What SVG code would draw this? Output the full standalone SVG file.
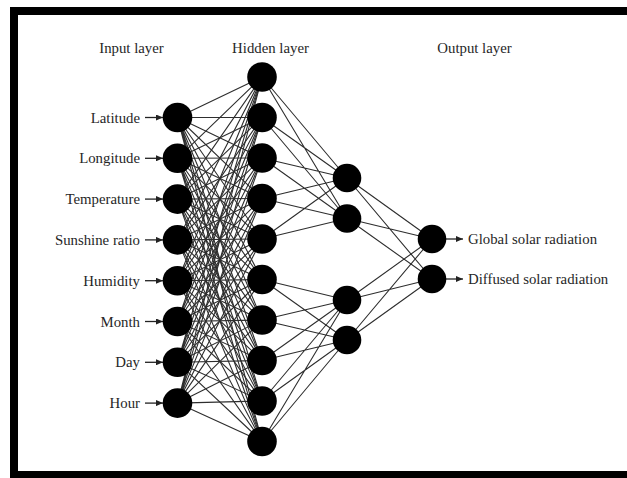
<svg xmlns="http://www.w3.org/2000/svg" width="627" height="478" viewBox="0 0 627 478">
  <style>
    .lbl { font-family: "Liberation Serif", "Times New Roman", serif; font-size: 14.8px; fill: #262626; }
    .node { fill: #000; }
    .edge { fill: none; stroke: #2e2e2e; stroke-width: 1.1; }
    .arr { stroke: #222; stroke-width: 1.3; marker-end: url(#tip); }
  </style>
  <defs>
    <marker id="tip" markerUnits="userSpaceOnUse" markerWidth="7" markerHeight="6" refX="7" refY="3" orient="auto">
      <path d="M0,0 L7,3 L0,6 z" fill="#222"/>
    </marker>
  </defs>

  <!-- frame -->
  <rect x="10" y="7" width="617" height="471" fill="#000"/>
  <rect x="18" y="15" width="609" height="456" fill="#fff"/>

  <!-- layer titles -->
  <text class="lbl" x="131.5" y="52.5" text-anchor="middle">Input layer</text>
  <text class="lbl" x="270.5" y="52.5" text-anchor="middle">Hidden layer</text>
  <text class="lbl" x="474.5" y="52.5" text-anchor="middle">Output layer</text>

  <!-- connectors -->
  <g id="connectors">
    <!-- input layer to first hidden layer (fully connected) -->
    <path class="edge" d="M177.5 117.5L262 77M177.5 117.5L262 117.5M177.5 117.5L262 158M177.5 117.5L262 198.5M177.5 117.5L262 239M177.5 117.5L262 279.5M177.5 117.5L262 320M177.5 117.5L262 360.5M177.5 117.5L262 401M177.5 117.5L262 441.5"/>
    <path class="edge" d="M177.5 158.3L262 77M177.5 158.3L262 117.5M177.5 158.3L262 158M177.5 158.3L262 198.5M177.5 158.3L262 239M177.5 158.3L262 279.5M177.5 158.3L262 320M177.5 158.3L262 360.5M177.5 158.3L262 401M177.5 158.3L262 441.5"/>
    <path class="edge" d="M177.5 199.1L262 77M177.5 199.1L262 117.5M177.5 199.1L262 158M177.5 199.1L262 198.5M177.5 199.1L262 239M177.5 199.1L262 279.5M177.5 199.1L262 320M177.5 199.1L262 360.5M177.5 199.1L262 401M177.5 199.1L262 441.5"/>
    <path class="edge" d="M177.5 239.9L262 77M177.5 239.9L262 117.5M177.5 239.9L262 158M177.5 239.9L262 198.5M177.5 239.9L262 239M177.5 239.9L262 279.5M177.5 239.9L262 320M177.5 239.9L262 360.5M177.5 239.9L262 401M177.5 239.9L262 441.5"/>
    <path class="edge" d="M177.5 280.7L262 77M177.5 280.7L262 117.5M177.5 280.7L262 158M177.5 280.7L262 198.5M177.5 280.7L262 239M177.5 280.7L262 279.5M177.5 280.7L262 320M177.5 280.7L262 360.5M177.5 280.7L262 401M177.5 280.7L262 441.5"/>
    <path class="edge" d="M177.5 321.5L262 77M177.5 321.5L262 117.5M177.5 321.5L262 158M177.5 321.5L262 198.5M177.5 321.5L262 239M177.5 321.5L262 279.5M177.5 321.5L262 320M177.5 321.5L262 360.5M177.5 321.5L262 401M177.5 321.5L262 441.5"/>
    <path class="edge" d="M177.5 362.3L262 77M177.5 362.3L262 117.5M177.5 362.3L262 158M177.5 362.3L262 198.5M177.5 362.3L262 239M177.5 362.3L262 279.5M177.5 362.3L262 320M177.5 362.3L262 360.5M177.5 362.3L262 401M177.5 362.3L262 441.5"/>
    <path class="edge" d="M177.5 403.1L262 77M177.5 403.1L262 117.5M177.5 403.1L262 158M177.5 403.1L262 198.5M177.5 403.1L262 239M177.5 403.1L262 279.5M177.5 403.1L262 320M177.5 403.1L262 360.5M177.5 403.1L262 401M177.5 403.1L262 441.5"/>
    <!-- first hidden layer to second hidden layer -->
    <path class="edge" d="M262 77L347 178M262 77L347 218.5M262 117.5L347 178M262 117.5L347 218.5M262 158L347 178M262 158L347 218.5M262 198.5L347 178M262 198.5L347 218.5M262 239L347 178M262 239L347 218.5"/>
    <path class="edge" d="M262 279.5L347 300M262 279.5L347 340M262 320L347 300M262 320L347 340M262 360.5L347 300M262 360.5L347 340M262 401L347 300M262 401L347 340M262 441.5L347 300M262 441.5L347 340"/>
    <!-- second hidden layer to output layer -->
    <path class="edge" d="M347 178L432 239M347 178L432 279M347 218.5L432 239M347 218.5L432 279M347 300L432 239M347 300L432 279M347 340L432 239M347 340L432 279"/>
    <!-- input arrows -->
    <line class="arr" x1="145" y1="117.5" x2="163" y2="117.5"/>
    <line class="arr" x1="145" y1="158.3" x2="163" y2="158.3"/>
    <line class="arr" x1="145" y1="199.1" x2="163" y2="199.1"/>
    <line class="arr" x1="145" y1="239.9" x2="163" y2="239.9"/>
    <line class="arr" x1="145" y1="280.7" x2="163" y2="280.7"/>
    <line class="arr" x1="145" y1="321.5" x2="163" y2="321.5"/>
    <line class="arr" x1="145" y1="362.3" x2="163" y2="362.3"/>
    <line class="arr" x1="145" y1="403.1" x2="163" y2="403.1"/>
    <!-- output arrows -->
    <line class="arr" x1="446" y1="239" x2="463" y2="239"/>
    <line class="arr" x1="446" y1="279" x2="463" y2="279"/>
  </g>

  <!-- input layer -->
  <g id="in-latitude"><circle class="node" cx="177.5" cy="117.5" r="14.8"/><text class="lbl" x="140" y="122.5" text-anchor="end">Latitude</text></g>
  <g id="in-longitude"><circle class="node" cx="177.5" cy="158.3" r="14.8"/><text class="lbl" x="140" y="163.3" text-anchor="end">Longitude</text></g>
  <g id="in-temperature"><circle class="node" cx="177.5" cy="199.1" r="14.8"/><text class="lbl" x="140" y="204.1" text-anchor="end">Temperature</text></g>
  <g id="in-sunshine"><circle class="node" cx="177.5" cy="239.9" r="14.8"/><text class="lbl" x="140" y="244.9" text-anchor="end">Sunshine ratio</text></g>
  <g id="in-humidity"><circle class="node" cx="177.5" cy="280.7" r="14.8"/><text class="lbl" x="140" y="285.7" text-anchor="end">Humidity</text></g>
  <g id="in-month"><circle class="node" cx="177.5" cy="321.5" r="14.8"/><text class="lbl" x="140" y="326.5" text-anchor="end">Month</text></g>
  <g id="in-day"><circle class="node" cx="177.5" cy="362.3" r="14.8"/><text class="lbl" x="140" y="367.3" text-anchor="end">Day</text></g>
  <g id="in-hour"><circle class="node" cx="177.5" cy="403.1" r="14.8"/><text class="lbl" x="140" y="408.1" text-anchor="end">Hour</text></g>

  <!-- first hidden layer -->
  <g id="h1-1"><circle class="node" cx="262" cy="77" r="14.8"/></g>
  <g id="h1-2"><circle class="node" cx="262" cy="117.5" r="14.8"/></g>
  <g id="h1-3"><circle class="node" cx="262" cy="158" r="14.8"/></g>
  <g id="h1-4"><circle class="node" cx="262" cy="198.5" r="14.8"/></g>
  <g id="h1-5"><circle class="node" cx="262" cy="239" r="14.8"/></g>
  <g id="h1-6"><circle class="node" cx="262" cy="279.5" r="14.8"/></g>
  <g id="h1-7"><circle class="node" cx="262" cy="320" r="14.8"/></g>
  <g id="h1-8"><circle class="node" cx="262" cy="360.5" r="14.8"/></g>
  <g id="h1-9"><circle class="node" cx="262" cy="401" r="14.8"/></g>
  <g id="h1-10"><circle class="node" cx="262" cy="441.5" r="14.8"/></g>

  <!-- second hidden layer -->
  <g id="h2-1"><circle class="node" cx="347" cy="178" r="14.3"/></g>
  <g id="h2-2"><circle class="node" cx="347" cy="218.5" r="14.3"/></g>
  <g id="h2-3"><circle class="node" cx="347" cy="300" r="14.3"/></g>
  <g id="h2-4"><circle class="node" cx="347" cy="340" r="14.3"/></g>

  <!-- output layer -->
  <g id="out-global"><circle class="node" cx="432" cy="239" r="14.3"/><text class="lbl" x="468" y="243.5">Global solar radiation</text></g>
  <g id="out-diffused"><circle class="node" cx="432" cy="279" r="14.3"/><text class="lbl" x="468" y="283.5">Diffused solar radiation</text></g>
</svg>
